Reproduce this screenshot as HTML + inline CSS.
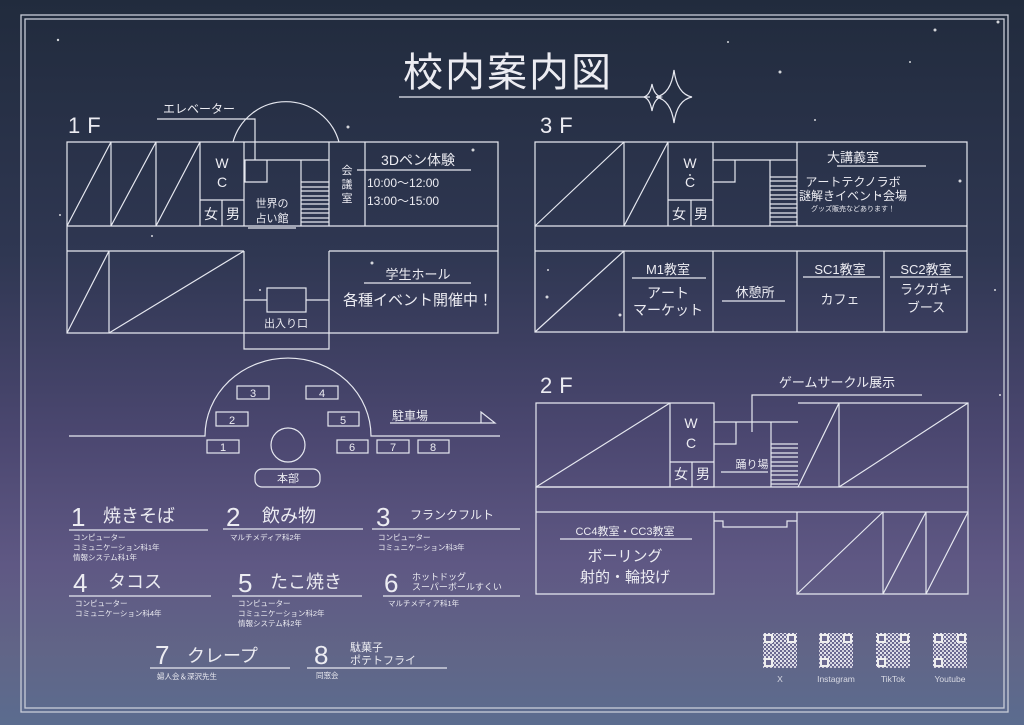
<!DOCTYPE html>
<html><head><meta charset="utf-8"><style>
html,body{margin:0;padding:0;width:1024px;height:725px;overflow:hidden}
svg{display:block}
text{font-family:"Liberation Sans","Noto Sans CJK JP",sans-serif;fill:#ececf2}
</style></head><body>
<svg width="1024" height="725" viewBox="0 0 1024 725" xmlns="http://www.w3.org/2000/svg">
<defs><linearGradient id="bg" x1="0" y1="0" x2="0" y2="1">
<stop offset="0" stop-color="#212b3d"/><stop offset="0.35" stop-color="#2f3752"/>
<stop offset="0.6" stop-color="#4b4770"/><stop offset="0.78" stop-color="#5f5884"/>
<stop offset="0.9" stop-color="#616587"/><stop offset="1" stop-color="#5b6c8f"/></linearGradient>
<pattern id="qr" width="4" height="4" patternUnits="userSpaceOnUse"><rect width="4" height="4" fill="#6a6890"/><rect width="2" height="2" fill="#e4e4ee"/><rect x="2" y="2" width="2" height="2" fill="#d0d0dc"/></pattern></defs>
<rect width="1024" height="725" fill="url(#bg)"/>
<g fill="none" stroke="#c8ccd8" stroke-width="1.3">
<rect x="21" y="15" width="987" height="697"/><rect x="25" y="19" width="979" height="689"/></g>
<g fill="#fff" opacity="0.8">
<circle cx="58" cy="40" r="1.2"/><circle cx="348" cy="127" r="1.5"/><circle cx="473" cy="150" r="1.5"/><circle cx="152" cy="236" r="1"/><circle cx="372" cy="263" r="1.5"/><circle cx="260" cy="290" r="1"/><circle cx="620" cy="315" r="1.5"/><circle cx="547" cy="297" r="1.5"/><circle cx="960" cy="181" r="1.5"/><circle cx="780" cy="72" r="1.5"/><circle cx="935" cy="30" r="1.5"/><circle cx="998" cy="22" r="1.5"/><circle cx="728" cy="42" r="1"/><circle cx="815" cy="120" r="1"/><circle cx="995" cy="290" r="1"/><circle cx="548" cy="270" r="1"/><circle cx="910" cy="62" r="1"/><circle cx="60" cy="215" r="1"/><circle cx="1000" cy="395" r="1"/><circle cx="690" cy="175" r="1"/><circle cx="880" cy="195" r="1"/></g>

<text x="403" y="86" font-size="40" letter-spacing="2">校内案内図</text>
<g stroke="#e6e8f0" stroke-width="1.2" fill="none">
<line x1="399" y1="97" x2="650" y2="97"/>
<path d="M674 70 Q677 94 692 97 Q677 100 674 123 Q671 100 656 97 Q671 94 674 70Z"/>
<path d="M652 84 Q654 95 661 97 Q654 99 652 111 Q650 99 644 97 Q650 95 652 84Z"/>
</g>

<g stroke="#e6e8f0" stroke-width="1.2" fill="none">
<path d="M67 142H498V333H67Z"/>
<line x1="67" y1="226" x2="498" y2="226"/>
<line x1="67" y1="251" x2="244" y2="251"/><line x1="329" y1="251" x2="498" y2="251"/>
<path d="M111 142V226M156 142V226M200 142V226M244 142V226M67 226L111 142M111 226L156 142M156 226L200 142"/>
<path d="M200 200H244M222 200V226"/>
<path d="M233 142A55 55 0 0 1 339 142"/>
<path d="M157 119H255V160M244 160H329M245 160V182H267V160"/>
<path d="M301 160V226M329 142V226M365 142V226"/>
<path d="M301 182H329M301 187H329M301 191H329M301 196H329M301 200H329M301 204H329M301 209H329M301 213H329M301 218H329M301 222H329"/>
<line x1="248" y1="228" x2="296" y2="228"/>
<line x1="357" y1="170" x2="471" y2="170"/>
<path d="M109 251V333M67 333L109 251M109 333L244 251M244 251V349H329V251"/>
<rect x="267" y="288" width="39" height="24"/><path d="M244 300H267M306 300H329"/>
<line x1="364" y1="283" x2="471" y2="283"/>
<path d="M535 142H967V332H535Z"/>
<path d="M535 226H967M535 251H967"/>
<path d="M624 142V226M668 142V226M713 142V226M797 142V226M535 226L624 142M624 226L668 142"/>
<path d="M668 200H713M691 200V226M713 160H797M713 182H735V160M770 160V226"/>
<path d="M770 177H797M770 181H797M770 186H797M770 190H797M770 195H797M770 199H797M770 204H797M770 208H797M770 213H797M770 217H797M770 222H797"/>
<line x1="837" y1="166" x2="926" y2="166"/>
<path d="M624 251V332M713 251V332M797 251V332M884 251V332M535 332L624 251"/>
<path d="M632 278H706M722 301H785M803 277H880M890 277H963"/>
<path d="M536 403H670V487H536ZM670 403H714V487H670ZM670 462H714M692 462V487"/>
<path d="M536 487L670 403M714 422H798M714 444H736V422M771 422V487M798 403H968V487M839 403V487M798 487L839 403M839 487L968 403"/>
<path d="M771 444H798M771 448H798M771 453H798M771 457H798M771 462H798M771 466H798M771 471H798M771 475H798M771 480H798M771 484H798"/>
<path d="M536 487H968M536 512H968M536 487V594H714V512M968 487V594H797V512"/>
<path d="M714 521H723V527H787V521H797"/>
<path d="M883 512V594M926 512V594M797 594L883 512M883 594L926 512M926 594L968 512"/>
<path d="M721 472H768M752 432V395H922M560 539H692"/>
<path d="M69 436H205A83 78 0 0 1 371 436H500"/>
<rect x="237" y="386" width="32" height="13"/><rect x="306" y="386" width="32" height="13"/>
<rect x="216" y="412" width="32" height="14"/><rect x="328" y="412" width="31" height="14"/>
<rect x="207" y="440" width="32" height="13"/><rect x="337" y="440" width="31" height="13"/>
<rect x="377" y="440" width="32" height="13"/><rect x="418" y="440" width="31" height="13"/>
<circle cx="288" cy="445" r="17"/><rect x="255" y="469" width="65" height="18" rx="7"/>
<path d="M390 423H495L481 412V423"/>
<path d="M69 530H208M223 529H363M372 529H520M69 596H211M232 596H362M383 596H520M150 668H290M307 668H447"/>
</g>

<g font-size="22" letter-spacing="7" font-weight="300"><text x="68" y="133">1F</text><text x="540" y="133">3F</text><text x="540" y="393">2F</text></g>
<g font-size="12"><text x="163" y="113">エレベーター</text></g>
<g font-size="14" text-anchor="middle"><text x="222" y="168">W</text><text x="222" y="187">C</text>
<text x="211" y="219">女</text><text x="233" y="219">男</text>
<text x="690" y="168">W</text><text x="690" y="187">C</text><text x="679" y="219">女</text><text x="701" y="219">男</text>
<text x="691" y="428">W</text><text x="691" y="448">C</text><text x="681" y="479">女</text><text x="703" y="479">男</text></g>
<g font-size="11" text-anchor="middle"><text x="272" y="207">世界の</text><text x="272" y="222">占い館</text>
<text x="347" y="174">会</text><text x="347" y="188">議</text><text x="347" y="202">室</text>
<text x="286" y="327">出入り口</text><text x="752" y="468">踊り場</text><text x="288" y="482">本部</text></g>
<text x="418" y="165" font-size="14" text-anchor="middle">3Dペン体験</text>
<text x="367" y="187" font-size="12">10:00～12:00</text><text x="367" y="205" font-size="12">13:00～15:00</text>
<text x="418" y="279" font-size="13" text-anchor="middle">学生ホール</text>
<text x="418" y="305" font-size="15" text-anchor="middle">各種イベント開催中！</text>
<g text-anchor="middle">
<text x="853" y="162" font-size="13">大講義室</text><text x="853" y="186" font-size="12">アートテクノラボ</text>
<text x="853" y="200" font-size="12">謎解きイベント会場</text><text x="853" y="211" font-size="7">グッズ販売などあります！</text>
<text x="668" y="274" font-size="13">M1教室</text><text x="668" y="298" font-size="14">アート</text><text x="668" y="315" font-size="14">マーケット</text>
<text x="755" y="297" font-size="13">休憩所</text>
<text x="840" y="274" font-size="13">SC1教室</text><text x="840" y="304" font-size="13">カフェ</text>
<text x="926" y="274" font-size="13">SC2教室</text><text x="926" y="294" font-size="13">ラクガキ</text><text x="926" y="312" font-size="13">ブース</text>
<text x="837" y="387" font-size="13">ゲームサークル展示</text>
<text x="625" y="535" font-size="11">CC4教室・CC3教室</text>
<text x="625" y="561" font-size="15">ボーリング</text><text x="625" y="582" font-size="15">射的・輪投げ</text>
</g>
<text x="392" y="420" font-size="12">駐車場</text>
<g font-size="11" text-anchor="middle"><text x="253" y="397">3</text><text x="322" y="397">4</text><text x="232" y="424">2</text><text x="343" y="424">5</text>
<text x="223" y="451">1</text><text x="352" y="451">6</text><text x="393" y="451">7</text><text x="433" y="451">8</text></g>

<g font-size="26"><text x="71" y="526">1</text><text x="226" y="526">2</text><text x="376" y="526">3</text>
<text x="73" y="592">4</text><text x="238" y="592">5</text><text x="384" y="592">6</text><text x="155" y="664">7</text><text x="314" y="664">8</text></g>
<g font-size="18"><text x="103" y="522">焼きそば</text><text x="262" y="522">飲み物</text><text x="108" y="588">タコス</text>
<text x="270" y="588">たこ焼き</text><text x="187" y="662">クレープ</text></g>
<text x="410" y="519" font-size="12">フランクフルト</text>
<text x="412" y="580" font-size="9">ホットドッグ</text><text x="412" y="590" font-size="9">スーパーボールすくい</text>
<text x="350" y="651" font-size="11">駄菓子</text><text x="350" y="664" font-size="11">ポテトフライ</text>
<g font-size="7.5"><text x="73" y="540">コンピューター</text><text x="73" y="550">コミュニケーション科1年</text><text x="73" y="560">情報システム科1年</text>
<text x="230" y="540">マルチメディア科2年</text>
<text x="378" y="540">コンピューター</text><text x="378" y="550">コミュニケーション科3年</text>
<text x="75" y="606">コンピューター</text><text x="75" y="616">コミュニケーション科4年</text>
<text x="238" y="606">コンピューター</text><text x="238" y="616">コミュニケーション科2年</text><text x="238" y="626">情報システム科2年</text>
<text x="388" y="606">マルチメディア科1年</text>
<text x="157" y="679">婦人会＆深沢先生</text><text x="316" y="678">同窓会</text></g>

<g fill="url(#qr)">
<rect x="763" y="633" width="34" height="35"/><rect x="819" y="633" width="34" height="35"/>
<rect x="876" y="633" width="34" height="35"/><rect x="933" y="633" width="34" height="35"/></g>
<g fill="#6a6890" stroke="#eee" stroke-width="2">
<rect x="765" y="635" width="7" height="7"/><rect x="788" y="635" width="7" height="7"/><rect x="765" y="659" width="7" height="7"/>
<rect x="821" y="635" width="7" height="7"/><rect x="844" y="635" width="7" height="7"/><rect x="821" y="659" width="7" height="7"/>
<rect x="878" y="635" width="7" height="7"/><rect x="901" y="635" width="7" height="7"/><rect x="878" y="659" width="7" height="7"/>
<rect x="935" y="635" width="7" height="7"/><rect x="958" y="635" width="7" height="7"/><rect x="935" y="659" width="7" height="7"/></g>
<g font-size="8.5" text-anchor="middle" opacity="0.85"><text x="780" y="682">X</text><text x="836" y="682">Instagram</text><text x="893" y="682">TikTok</text><text x="950" y="682">Youtube</text></g>
</svg>
</body></html>
